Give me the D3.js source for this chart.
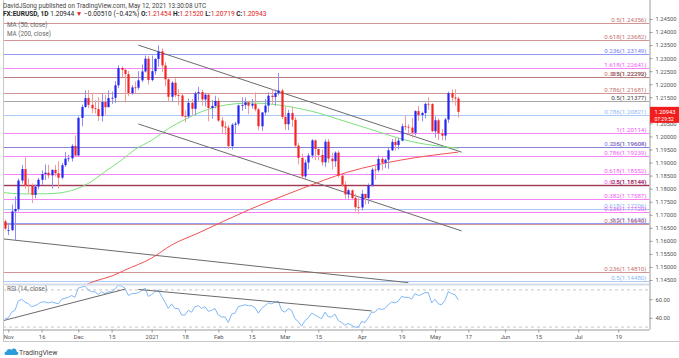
<!DOCTYPE html>
<html><head><meta charset="utf-8">
<script src="https://cdn.jsdelivr.net/npm/d3@7"></script>
<style>body{margin:0;background:#fff}svg{display:block;font-family:Roboto,"Liberation Sans",Arial,sans-serif}</style>
</head><body><svg id="c" width="679" height="358"></svg>
<script>
// ---------------- DATA ----------------
const dates = ["2020-10-30",
"2020-11-02","2020-11-03","2020-11-04","2020-11-05","2020-11-06","2020-11-09","2020-11-10","2020-11-11","2020-11-12","2020-11-13","2020-11-16","2020-11-17","2020-11-18","2020-11-19","2020-11-20","2020-11-23","2020-11-24","2020-11-25","2020-11-26","2020-11-27","2020-11-30",
"2020-12-01","2020-12-02","2020-12-03","2020-12-04","2020-12-07","2020-12-08","2020-12-09","2020-12-10","2020-12-11","2020-12-14","2020-12-15","2020-12-16","2020-12-17","2020-12-18","2020-12-21","2020-12-22","2020-12-23","2020-12-24","2020-12-28","2020-12-29","2020-12-30","2020-12-31",
"2021-01-04","2021-01-05","2021-01-06","2021-01-07","2021-01-08","2021-01-11","2021-01-12","2021-01-13","2021-01-14","2021-01-15","2021-01-18","2021-01-19","2021-01-20","2021-01-21","2021-01-22","2021-01-25","2021-01-26","2021-01-27","2021-01-28","2021-01-29",
"2021-02-01","2021-02-02","2021-02-03","2021-02-04","2021-02-05","2021-02-08","2021-02-09","2021-02-10","2021-02-11","2021-02-12","2021-02-15","2021-02-16","2021-02-17","2021-02-18","2021-02-19","2021-02-22","2021-02-23","2021-02-24","2021-02-25","2021-02-26",
"2021-03-01","2021-03-02","2021-03-03","2021-03-04","2021-03-05","2021-03-08","2021-03-09","2021-03-10","2021-03-11","2021-03-12","2021-03-15","2021-03-16","2021-03-17","2021-03-18","2021-03-19","2021-03-22","2021-03-23","2021-03-24","2021-03-25","2021-03-26","2021-03-29","2021-03-30","2021-03-31",
"2021-04-01","2021-04-02","2021-04-05","2021-04-06","2021-04-07","2021-04-08","2021-04-09","2021-04-12","2021-04-13","2021-04-14","2021-04-15","2021-04-16","2021-04-19","2021-04-20","2021-04-21","2021-04-22","2021-04-23","2021-04-26","2021-04-27","2021-04-28","2021-04-29","2021-04-30",
"2021-05-03","2021-05-04","2021-05-05","2021-05-06","2021-05-07","2021-05-10","2021-05-11","2021-05-12"];

const opens = [1.1675,
1.1638,1.1641,1.1713,1.1722,1.1831,1.1875,1.1813,1.1812,1.1776,1.1808,1.1834,1.1856,1.1861,1.1851,1.1872,1.1859,1.1842,1.1890,1.1915,1.1916,1.1964,
1.1927,1.2071,1.2113,1.2147,1.2121,1.2108,1.2105,1.2078,1.2132,1.2112,1.2147,1.2148,1.2196,1.2262,1.2255,1.2239,1.2166,1.2188,1.2187,1.2215,1.2249,1.2298,
1.2216,1.2250,1.2297,1.2326,1.2272,1.2219,1.2152,1.2206,1.2158,1.2157,1.2078,1.2077,1.2129,1.2106,1.2165,1.2170,1.2142,1.2160,1.2109,1.2117,
1.2136,1.2061,1.2038,1.2034,1.1963,1.2045,1.2049,1.2119,1.2120,1.2131,1.2118,1.2125,1.2104,1.2039,1.2092,1.2118,1.2156,1.2151,1.2166,1.2176,
1.2075,1.2047,1.2090,1.2064,1.1965,1.1918,1.1847,1.1900,1.1927,1.1985,1.1952,1.1929,1.1901,1.1980,1.1915,1.1905,1.1938,1.1850,1.1815,1.1778,1.1794,1.1764,1.1729,
1.1728,1.1780,1.1764,1.1813,1.1873,1.1871,1.1914,1.1899,1.1911,1.1947,1.1979,1.1967,1.1984,1.2039,1.2037,1.2034,1.2014,1.2097,1.2082,1.2090,1.2125,1.2124,
1.2020,1.2062,1.2012,1.2003,1.2065,1.2166,1.2149,1.21454];
const highs = [1.1682,
1.1669,1.1739,1.1770,1.1839,1.1891,1.1920,1.1838,1.1820,1.1816,1.1841,1.1870,1.1893,1.1892,1.1873,1.1891,1.1905,1.1898,1.1940,1.1930,1.1970,1.2004,
1.2077,1.2122,1.2176,1.2178,1.2167,1.2138,1.2150,1.2163,1.2159,1.2177,1.2172,1.2212,1.2273,1.2269,1.2258,1.2251,1.2197,1.2211,1.2250,1.2276,1.2310,1.2309,
1.2310,1.2300,1.2349,1.2338,1.2285,1.2222,1.2212,1.2223,1.2182,1.2164,1.2100,1.2145,1.2144,1.2172,1.2190,1.2180,1.2168,1.2168,1.2140,1.2156,
1.2148,1.2075,1.2058,1.2044,1.2051,1.2056,1.2122,1.2150,1.2149,1.2137,1.2144,1.2169,1.2109,1.2093,1.2144,1.2169,1.2181,1.2180,1.2243,1.2183,
1.2113,1.2102,1.2114,1.2075,1.1975,1.1934,1.1911,1.1937,1.1990,1.1988,1.1954,1.1950,1.1989,1.1990,1.1938,1.1943,1.1945,1.1852,1.1829,1.1800,1.1797,1.1780,1.1763,
1.1795,1.1780,1.1820,1.1880,1.1887,1.1927,1.1921,1.1915,1.1960,1.1990,1.1995,1.1994,1.2049,1.2080,1.2047,1.2071,1.2100,1.2117,1.2095,1.2130,1.2150,1.2128,
1.2077,1.2070,1.2028,1.2071,1.2172,1.2180,1.2181,1.21520];
const lows = [1.1640,
1.1622,1.1638,1.1603,1.1713,1.1819,1.1800,1.1783,1.1745,1.1763,1.1797,1.1815,1.1833,1.1839,1.1800,1.1847,1.1800,1.1836,1.1883,1.1903,1.1904,1.1925,
1.1925,1.2039,1.2110,1.2109,1.2089,1.2087,1.2059,1.2057,1.2082,1.2113,1.2125,1.2128,1.2185,1.2228,1.2130,1.2154,1.2160,1.2167,1.2178,1.2208,1.2245,1.2199,
1.2211,1.2237,1.2267,1.2247,1.2192,1.2132,1.2133,1.2150,1.2120,1.2073,1.2054,1.2070,1.2081,1.2081,1.2137,1.2118,1.2115,1.2058,1.2068,1.2108,
1.2055,1.2011,1.2007,1.1952,1.1950,1.2010,1.2041,1.2098,1.2105,1.2085,1.2107,1.2096,1.2023,1.2021,1.2081,1.2092,1.2125,1.2117,1.2157,1.2066,
1.2024,1.2024,1.2036,1.1958,1.1893,1.1836,1.1838,1.1874,1.1917,1.1910,1.1908,1.1887,1.1884,1.1899,1.1874,1.1883,1.1843,1.1807,1.1761,1.1762,1.1760,1.1712,1.1704,
1.1716,1.1740,1.1742,1.1806,1.1834,1.1863,1.1870,1.1878,1.1876,1.1944,1.1946,1.1950,1.1981,1.2023,1.2008,1.1995,1.2004,1.2060,1.2058,1.2069,1.2102,1.2017,
1.1996,1.1986,1.1985,1.1985,1.2052,1.2130,1.2118,1.20719];
const closes = [1.1647,
1.1641,1.1713,1.1722,1.1831,1.1875,1.1813,1.1812,1.1776,1.1808,1.1834,1.1856,1.1861,1.1851,1.1872,1.1859,1.1842,1.1890,1.1915,1.1916,1.1964,1.1927,
1.2071,1.2113,1.2147,1.2121,1.2108,1.2105,1.2078,1.2132,1.2112,1.2147,1.2148,1.2196,1.2262,1.2255,1.2239,1.2166,1.2188,1.2187,1.2215,1.2249,1.2298,1.2216,
1.2250,1.2297,1.2326,1.2272,1.2219,1.2152,1.2206,1.2158,1.2157,1.2078,1.2077,1.2129,1.2106,1.2165,1.2170,1.2142,1.2160,1.2109,1.2117,1.2136,
1.2061,1.2038,1.2034,1.1963,1.2045,1.2049,1.2119,1.2120,1.2131,1.2118,1.2125,1.2104,1.2039,1.2092,1.2118,1.2156,1.2151,1.2166,1.2176,1.2075,
1.2047,1.2090,1.2064,1.1965,1.1918,1.1847,1.1900,1.1927,1.1985,1.1952,1.1929,1.1901,1.1980,1.1915,1.1905,1.1938,1.1850,1.1815,1.1778,1.1794,1.1764,1.1729,1.1728,
1.1780,1.1764,1.1813,1.1873,1.1871,1.1914,1.1899,1.1911,1.1947,1.1979,1.1967,1.1984,1.2039,1.2037,1.2034,1.2014,1.2097,1.2082,1.2090,1.2125,1.2124,1.2020,
1.2062,1.2012,1.2003,1.2065,1.2166,1.2149,1.21453,1.20943];

const rsiValues = [39,
40,46,48,58,60,57,55,52,53,55,57,57,56,57,56,55,60,61,62,64,62,
72,73,74,70,68,68,65,68,66,68,68,71,75,74,72,64,66,66,67,69,72,63,
65,68,70,63,57,50,55,50,50,43,43,48,46,52,53,50,52,47,48,50,
43,41,41,35,44,45,52,53,54,53,53,51,45,50,53,56,55,57,58,48,
46,50,48,39,36,31,37,40,45,43,41,39,46,41,41,44,37,35,32,34,32,30,30,
36,35,40,46,46,50,49,50,54,57,56,58,63,62,62,60,66,64,65,67,67,56,
60,55,54,59,68,66,65,59];

// moving averages (date, value)
const ma50Dates = ["2020-10-29","2020-11-06","2020-11-13","2020-11-20","2020-11-27","2020-12-04","2020-12-11","2020-12-18","2020-12-24","2021-01-04","2021-01-11","2021-01-18","2021-01-25","2021-02-01","2021-02-08","2021-02-15","2021-02-22","2021-03-01","2021-03-08","2021-03-15","2021-03-22","2021-03-29","2021-04-05","2021-04-12","2021-04-19","2021-04-26","2021-05-03","2021-05-12"];
const ma50Values = [1.1786,1.1780,1.1780,1.1782,1.1793,1.1820,1.1865,1.1910,1.1950,1.1985,1.2030,1.2065,1.2095,1.2115,1.2125,1.2128,1.2125,1.2117,1.2105,1.2090,1.2070,1.2050,1.2030,1.2010,1.1990,1.1975,1.1965,1.1955];
const ma200Dates = ["2020-12-01","2020-12-08","2020-12-15","2020-12-21","2021-01-04","2021-01-12","2021-01-22","2021-02-12","2021-03-05","2021-03-26","2021-04-19","2021-05-12"];
const ma200Values = [1.1418,1.1446,1.1465,1.1488,1.1534,1.1584,1.1630,1.1718,1.1795,1.1864,1.1910,1.1940];

// fibonacci / horizontal levels
const fibValues = [1.24356,1.23682,1.23149,1.22641,1.22292,1.22279,1.21681,1.21377,1.20821,1.20114,1.19604,1.19608,1.19239,1.18552,1.18149,1.18144,1.17587,1.17206,1.17120,1.16693,1.16640,1.14810,1.14480];
const fibLabels = ["0.5(1.24356)","0.618(1.23682)","0.236(1.23149)","1.618(1.22641)","0.5(1.22292)","0.382(1.22279)","0.786(1.21681)","0.5(1.21377)","0.786(1.20821)","1(1.20114)","0.5(1.19604)","0.236(1.19608)","0.786(1.19239)","0.618(1.18552)","0.618(1.18149)","0.5(1.18144)","0.382(1.17587)","0.618(1.17206)","0.236(1.17120)","0.5(1.16693)","0.382(1.16640)","0.236(1.14810)","0.5(1.14480)"];
const fibKinds = ["brown","brown","blue","magenta","grey","brown","brown","grey","lightblue","magenta","brown","blue","magenta","magenta","magenta","maroon","magenta","lightblue","magenta","blue","brown","brown","lightblue"];

// trend lines (date, value)
const trendPrice = [
  [["2020-12-28",1.2350],["2021-05-13",1.1940]],
  [["2020-12-28",1.2048],["2021-05-13",1.1638]],
  [["2020-10-29",1.1608],["2021-04-21",1.1440]]
];
const trendRsi = [
  [["2020-10-29",36.5],["2020-12-21",70.8]],
  [["2020-12-28",70.5],["2021-04-06",47.4]]
];

const priceTicks = [1.245,1.24,1.235,1.23,1.225,1.22,1.215,1.205,1.2,1.195,1.19,1.185,1.18,1.175,1.17,1.165,1.16,1.155,1.15,1.145];
const rsiTicks = [60,40];
const timeTickDates = ["2020-11-02","2020-11-16","2020-12-01","2020-12-15","2021-01-04","2021-01-18","2021-02-01","2021-02-15","2021-03-01","2021-03-15","2021-04-01","2021-04-19","2021-05-03","2021-05-17","2021-06-01","2021-06-15","2021-07-01","2021-07-19"];
const timeTickLabels = ["Nov","16","Dec","15","2021","18","Feb","15","Mar","15","Apr","19","May","17","Jun","15","Jul","19"];

// ---------------- LAYOUT / STYLE ----------------
const W=679,H=358, L=3, R=649.5;
const priceTop=0, priceBot=284, rsiTop=285, rsiBot=329.5;
const colors = {brown:"#c47272",blue:"#6f7cf0",magenta:"#f25cf2",grey:"#8a8a8a",lightblue:"#8fb8f5",maroon:"#8a1c2b"};
const upCol="#2424f5", dnCol="#f52424";

// business-day calendar (weekends + Dec 25 / Jan 1 skipped) for bar positions
const holidays = new Set(["2020-12-25","2021-01-01"]);
const cal=[];
for(let d=new Date(Date.UTC(2020,9,26)); d<=new Date(Date.UTC(2021,7,31)); d.setUTCDate(d.getUTCDate()+1)){
  const wd=d.getUTCDay(), s=d.toISOString().slice(0,10);
  if(wd===0||wd===6||holidays.has(s)) continue;
  cal.push(s);
}
const i0=cal.indexOf("2020-11-02");
const bi = s => cal.indexOf(s)-i0;

const x = d3.scaleLinear().domain([0,183]).range([8.3,618.3]);
const y = d3.scaleLinear().domain([1.245,1.145]).range([19,280]);
const yr = d3.scaleLinear().domain([60,40]).range([299.2,317.8]);

const svg = d3.select("#c");
const defs = svg.append("defs");
defs.append("clipPath").attr("id","cp").append("rect").attr("x",L+0.5).attr("y",priceTop).attr("width",R-L-0.5).attr("height",priceBot-priceTop);
defs.append("clipPath").attr("id","cr").append("rect").attr("x",L+0.5).attr("y",rsiTop).attr("width",R-L-0.5).attr("height",rsiBot-rsiTop);

const gp = svg.append("g").attr("clip-path","url(#cp)");
const gr = svg.append("g").attr("clip-path","url(#cr)");

// fib levels
fibValues.forEach((v,i)=>{
  const c=colors[fibKinds[i]];
  gp.append("line").attr("x1",L).attr("x2",R).attr("y1",Math.round(y(v))+0.5).attr("y2",Math.round(y(v))+0.5)
    .attr("stroke",c).attr("stroke-width",fibKinds[i]==="maroon"?1.5:1.1).attr("opacity",0.75);
});
fibValues.forEach((v,i)=>{
  const c=colors[fibKinds[i]];
  svg.append("text").attr("x",R-3).attr("y",Math.round(y(v))-1).attr("text-anchor","end")
    .attr("font-size",6.2).attr("fill",fibKinds[i]==="grey"?"#444":c).text(fibLabels[i]);
});

// trend lines
const lineGen = d3.line().x(d=>x(bi(d[0]))).y(d=>y(d[1]));
trendPrice.forEach(t=>gp.append("path").attr("d",lineGen(t)).attr("stroke","#6b6b6b").attr("stroke-width",1).attr("fill","none"));

// MAs
const maLine = d3.line().curve(d3.curveMonotoneX).x(d=>x(bi(d[0]))).y(d=>y(d[1]));
gp.append("path").attr("d",maLine(ma50Dates.map((d,i)=>[d,ma50Values[i]]))).attr("stroke","#7be07b").attr("fill","none").attr("stroke-width",1);
gp.append("path").attr("d",maLine(ma200Dates.map((d,i)=>[d,ma200Values[i]]))).attr("stroke","#f25050").attr("fill","none").attr("stroke-width",1);

// candles
const n=Math.min(dates.length,opens.length,highs.length,lows.length,closes.length);
const bars=d3.range(n).map(i=>({i:bi(dates[i]),o:opens[i],h:highs[i],l:lows[i],c:closes[i]}));
const cg=gp.append("g");
cg.selectAll("line.w").data(bars).join("line").attr("class","w")
  .attr("x1",d=>Math.round(x(d.i))+0.5).attr("x2",d=>Math.round(x(d.i))+0.5)
  .attr("y1",d=>y(d.h)).attr("y2",d=>y(d.l))
  .attr("stroke",d=>d.c>=d.o?"#8f8ff5":"#f59a9a").attr("stroke-width",1);
cg.selectAll("rect").data(bars).join("rect")
  .attr("x",d=>Math.round(x(d.i))-0.6).attr("width",2.2)
  .attr("y",d=>Math.min(y(d.o),y(d.c))).attr("height",d=>Math.max(0.8,Math.abs(y(d.o)-y(d.c))))
  .attr("fill",d=>d.c>=d.o?upCol:dnCol);

// RSI pane
[70,30].forEach(v=>gr.append("line").attr("x1",L).attr("x2",R).attr("y1",yr(v)).attr("y2",yr(v))
  .attr("stroke","#b8b8b8").attr("stroke-dasharray","3,3").attr("stroke-width",0.8));
const rsiLine=d3.line().x(d=>x(d[0])).y(d=>yr(d[1]));
const nr=Math.min(dates.length,rsiValues.length);
gr.append("path").attr("d",rsiLine(d3.range(nr).map(i=>[bi(dates[i]),rsiValues[i]])))
  .attr("stroke","#7fb8f7").attr("fill","none").attr("stroke-width",1);
const rl=d3.line().x(d=>x(bi(d[0]))).y(d=>yr(d[1]));
trendRsi.forEach(t=>gr.append("path").attr("d",rl(t)).attr("stroke","#6b6b6b").attr("stroke-width",1).attr("fill","none"));

// frames
svg.append("line").attr("x1",L+0.5).attr("x2",L+0.5).attr("y1",0).attr("y2",341.5).attr("stroke","#c8c8c8");
svg.append("line").attr("x1",L).attr("x2",R).attr("y1",284.5).attr("y2",284.5).attr("stroke","#d6dbe6").attr("stroke-width",2);
svg.append("line").attr("x1",L).attr("x2",W).attr("y1",341.5).attr("y2",341.5).attr("stroke","#c8c8c8");

// price axis
const pa=svg.append("g").attr("transform",`translate(${R},0)`)
  .call(d3.axisRight(y).tickValues(priceTicks).tickSize(3).tickPadding(3).tickFormat(d3.format(".5f")));
const ra=svg.append("g").attr("transform",`translate(${R},0)`)
  .call(d3.axisRight(yr).tickValues(rsiTicks).tickSize(3).tickPadding(3).tickFormat(d3.format(".2f")));
[pa,ra].forEach(a=>{a.select(".domain").attr("stroke","#9a9a9a").attr("d",`M0.5,0V329.5`);
  a.selectAll(".tick line").attr("stroke","#9a9a9a");
  a.selectAll("text").attr("font-size",5.8).attr("fill","#555").attr("font-family","Roboto,Arial,sans-serif");});
ra.select(".domain").remove();

// time axis
const ta=svg.append("g").attr("transform",`translate(0,${rsiBot})`)
  .call(d3.axisBottom(x).tickValues(timeTickDates.map(bi)).tickSize(3).tickPadding(2)
  .tickFormat((d,i)=>timeTickLabels[i]));
ta.select(".domain").attr("stroke","#9a9a9a").attr("d",`M${L},0.5H${R}`);
ta.selectAll(".tick line").attr("stroke","#9a9a9a");
ta.selectAll("text").attr("font-size",5.8).attr("fill","#555").attr("font-family","Roboto,Arial,sans-serif");

// last price box
const lastC=closes[n-1];
const ly=y(lastC);
svg.append("rect").attr("x",R+0.5).attr("y",ly-5).attr("width",W-R).attr("height",16).attr("fill","#f21d1d");
svg.append("text").attr("x",R+5).attr("y",ly+2).attr("font-size",5.8).attr("fill","#fff").text(d3.format(".5f")(lastC));
svg.append("text").attr("x",R+5).attr("y",ly+9).attr("font-size",5).attr("fill","#fff").text("07:29:52");

// header
svg.append("text").attr("x",3).attr("y",8).attr("font-size",6.4).attr("fill","#444").text("DavidJSong published on TradingView.com, May 12, 2021 13:30:08 UTC");
const h2=svg.append("text").attr("x",3).attr("y",16).attr("font-size",6.6).attr("fill","#222");
h2.append("tspan").attr("font-weight","bold").text("FX:EURUSD, 1D ");
h2.append("tspan").text(" 1.20944 ");
h2.append("tspan").attr("fill","#e02020").text("▼");
h2.append("tspan").text(" −0.00510 (−0.42%) ");
[["O:","1.21454"],["H:","1.21520"],["L:","1.20719"],["C:","1.20943"]].forEach(p=>{
  h2.append("tspan").attr("font-weight","bold").text(" "+p[0]);
  h2.append("tspan").attr("fill","#e02020").text(p[1]);
});
svg.append("text").attr("x",7).attr("y",27).attr("font-size",6.3).attr("fill","#666").text("MA (50, close)");
svg.append("text").attr("x",7).attr("y",35.5).attr("font-size",6.3).attr("fill","#666").text("MA (200, close)");
svg.append("text").attr("x",7).attr("y",291).attr("font-size",6.3).attr("fill","#666").text("RSI (14, close)");

// TradingView logo
const lg=svg.append("g").attr("transform","translate(4,346)");
lg.append("path").attr("d","M2,9 C0,9 0,5.5 2.5,5.5 C2.5,3 6,2 7.5,4 C9,1.5 13,2.5 12.5,5.5 C15,5.5 15,9 12.5,9 Z").attr("fill","#2d9cdb");
svg.append("text").attr("x",19).attr("y",354.5).attr("font-size",7).attr("fill","#444").text("TradingView");
</script></body></html>
